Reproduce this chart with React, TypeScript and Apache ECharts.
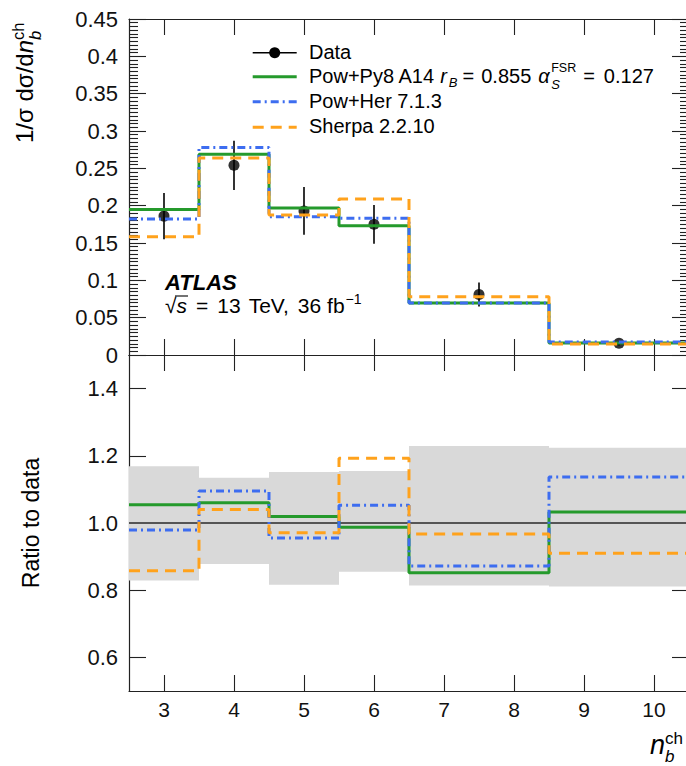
import React, { useEffect, useRef } from "react";
import * as echarts from "echarts";

// ---------- data ----------
const binEdges = [2.5, 3.5, 4.5, 5.5, 6.5, 8.5, 10.5];
const xTickValues = [3, 4, 5, 6, 7, 8, 9, 10];
const ratioTickValues = [0.6, 0.8, 1.0, 1.2, 1.4];

const dataValues = [0.186, 0.254, 0.193, 0.175, 0.081, 0.0157];
const dataErrors = [0.031, 0.033, 0.032, 0.026, 0.016, 0.003];

const powPy8 = [0.195, 0.269, 0.197, 0.173, 0.0695, 0.0162];
const powHer = [0.182, 0.278, 0.185, 0.183, 0.0698, 0.0174];
const sherpa = [0.1585, 0.264, 0.1875, 0.209, 0.078, 0.0147];

const ratioPowPy8 = [1.054, 1.06, 1.019, 0.987, 0.852, 1.033];
const ratioPowHer = [0.979, 1.095, 0.955, 1.053, 0.872, 1.137];
const ratioSherpa = [0.858, 1.04, 0.971, 1.193, 0.967, 0.91];
const uncLow = [0.829, 0.878, 0.816, 0.855, 0.814, 0.811];
const uncHigh = [1.169, 1.135, 1.152, 1.155, 1.229, 1.224];
const unityRatio = 1.0;

// ---------- style ----------
const FONT = "'Liberation Sans', Arial, Helvetica, sans-serif";
const GREEN = "#259a2c";
const BLUE = "#3d6df0";
const ORANGE = "#ffa21c";
const BAND = "#d9d9d9";
const AXIS = "#222";
const BLUE_DASH = [8, 4, 2, 4];
const ORANGE_DASH = [11, 7];

let measureCtx: CanvasRenderingContext2D | null = null;
function textWidth(t: string, size: number, italic?: boolean, bold?: boolean) {
  if (!measureCtx) measureCtx = document.createElement("canvas").getContext("2d");
  measureCtx!.font = `${italic ? "italic " : ""}${bold ? "bold " : ""}${size}px ${FONT}`;
  return measureCtx!.measureText(t).width;
}

type Seg = { t: string; s: number; it?: boolean; b?: boolean; dy?: number; stack?: boolean; gap?: number };

function mathText(segs: Seg[], color = "#000") {
  const children: any[] = [];
  const starts: number[] = [];
  let prevStart = 0;
  let end = 0;
  for (const g of segs) {
    const start = g.stack ? prevStart : end + (g.gap || 0);
    const w = textWidth(g.t, g.s, g.it, g.b);
    starts.push(start);
    children.push({
      type: "text",
      x: start,
      y: (g.dy || 0) - 0.35 * g.s,
      silent: true,
      style: {
        text: g.t,
        fontSize: g.s,
        fontFamily: FONT,
        fontStyle: g.it ? "italic" : "normal",
        fontWeight: g.b ? "bold" : "normal",
        fill: color,
        align: "left",
        verticalAlign: "middle",
      },
    });
    prevStart = start;
    end = Math.max(end, start + w);
  }
  return { children, width: end, starts };
}

function stepData(values: number[]) {
  const pts = values.map((v, i) => [binEdges[i], v]);
  pts.push([binEdges[binEdges.length - 1], values[values.length - 1]]);
  return pts;
}

const binCenters = dataValues.map((_, i) => (binEdges[i] + binEdges[i + 1]) / 2);

export default function App() {
  const ref = useRef<HTMLDivElement>(null);

  useEffect(() => {
    if (!ref.current) return;
    const chart = echarts.init(ref.current, undefined, { renderer: "svg" });

    const axisLine = { show: true, onZero: false, lineStyle: { color: AXIS, width: 1.2 } };
    const tickStyle = { color: AXIS, width: 1.1 };

    const xAxisBase = (grid: number, pos: string, labels: boolean) => ({
      type: "value",
      gridIndex: grid,
      position: pos,
      min: 2.5,
      max: 10.5,
      axisLine,
      axisTick: { show: true, inside: true, length: 16, customValues: xTickValues, lineStyle: tickStyle },
      axisLabel: labels
        ? { show: true, customValues: xTickValues, margin: 8, fontSize: 21, fontFamily: FONT, color: "#111" }
        : { show: false },
      splitLine: { show: false },
    });

    const topY = (pos: string, labels: boolean) => ({
      type: "value",
      gridIndex: 0,
      position: pos,
      min: 0,
      max: 0.45,
      interval: 0.05,
      axisLine,
      axisTick: { show: true, inside: true, length: 17, lineStyle: tickStyle },
      minorTick: { show: true, splitNumber: 10, length: 9, lineStyle: tickStyle },
      axisLabel: labels
        ? {
            show: true,
            margin: 11,
            fontSize: 22,
            fontFamily: FONT,
            color: "#111",
            formatter: (v: number) => String(+v.toFixed(2)),
          }
        : { show: false },
      splitLine: { show: false },
    });

    const botY = (pos: string, labels: boolean) => ({
      type: "value",
      gridIndex: 1,
      position: pos,
      min: 0.5,
      max: 1.5,
      axisLine,
      axisTick: { show: true, inside: true, length: 17, customValues: ratioTickValues, lineStyle: tickStyle },
      axisLabel: labels
        ? {
            show: true,
            customValues: ratioTickValues,
            margin: 11,
            fontSize: 22,
            fontFamily: FONT,
            color: "#111",
            formatter: (v: number) => v.toFixed(1),
          }
        : { show: false },
      splitLine: { show: false },
    });

    const modelLine = (name: string, values: number[], color: string, dash: any, xi: number, yi: number, z: number) => ({
      name,
      type: "line",
      xAxisIndex: xi,
      yAxisIndex: yi,
      data: stepData(values),
      step: "end",
      symbol: "none",
      showSymbol: false,
      lineStyle: { color, width: 3, type: dash },
      z,
      silent: true,
    });

    // ---------- graphic texts ----------
    const graphics: any[] = [];

    // legend
    const lx1 = 252.7;
    const lx2 = 296.7;
    const textX = 309;
    const rows = [
      { ly: 52.7, base: 59.2 },
      { ly: 76.7, base: 83.2 },
      { ly: 101.7, base: 108.2 },
      { ly: 127.3, base: 133 },
    ];
    graphics.push({
      type: "line",
      shape: { x1: lx1, y1: rows[0].ly, x2: lx2, y2: rows[0].ly },
      style: { stroke: "#000", lineWidth: 1.5 },
      silent: true,
    });
    graphics.push({
      type: "circle",
      shape: { cx: (lx1 + lx2) / 2, cy: rows[0].ly, r: 5.5 },
      style: { fill: "#000" },
      silent: true,
    });
    graphics.push({
      type: "line",
      shape: { x1: lx1, y1: rows[1].ly, x2: lx2, y2: rows[1].ly },
      style: { stroke: GREEN, lineWidth: 3 },
      silent: true,
    });
    graphics.push({
      type: "line",
      shape: { x1: lx1, y1: rows[2].ly, x2: lx2, y2: rows[2].ly },
      style: { stroke: BLUE, lineWidth: 3, lineDash: BLUE_DASH },
      silent: true,
    });
    graphics.push({
      type: "line",
      shape: { x1: lx1, y1: rows[3].ly, x2: lx2, y2: rows[3].ly },
      style: { stroke: ORANGE, lineWidth: 3, lineDash: ORANGE_DASH },
      silent: true,
    });
    const legTexts: Seg[][] = [
      [{ t: "Data", s: 20 }],
      [
        { t: "Pow+Py8 A14", s: 20 },
        { t: "r", s: 20, it: true, gap: 5 },
        { t: "B", s: 13, it: true, dy: 4, gap: 2 },
        { t: "=", s: 20, gap: 5 },
        { t: "0.855", s: 20, gap: 7 },
        { t: "α", s: 20, it: true, gap: 7 },
        { t: "FSR", s: 12.5, dy: -11, gap: 1.5 },
        { t: "S", s: 13, it: true, dy: 6, stack: true },
        { t: "=", s: 20, gap: 7 },
        { t: "0.127", s: 20, gap: 9 },
      ],
      [{ t: "Pow+Her 7.1.3", s: 20 }],
      [{ t: "Sherpa 2.2.10", s: 20 }],
    ];
    legTexts.forEach((segs, i) => {
      graphics.push({ type: "group", x: textX, y: rows[i].base, children: mathText(segs).children });
    });

    // ATLAS label
    graphics.push({
      type: "group",
      x: 165,
      y: 290.5,
      children: mathText([{ t: "ATLAS", s: 22, it: true, b: true }]).children,
    });
    const sq = textWidth("√", 21);
    const sw = textWidth("s", 21, true);
    const energy = mathText([
      { t: "√", s: 21 },
      { t: "s", s: 21, it: true, gap: 0 },
      { t: "=", s: 21, gap: 9 },
      { t: "13", s: 21, gap: 9 },
      { t: "TeV,", s: 21, gap: 8 },
      { t: "36", s: 21, gap: 9 },
      { t: "fb", s: 21, gap: 6 },
      { t: "−1", s: 14, dy: -9, gap: 1 },
    ]);
    graphics.push({
      type: "group",
      x: 165,
      y: 313,
      children: [
        ...energy.children,
        {
          type: "line",
          shape: { x1: sq - 1.5, y1: -17, x2: sq + sw + 1, y2: -17 },
          style: { stroke: "#000", lineWidth: 1.1 },
          silent: true,
        },
      ],
    });

    // y-axis title (top)
    graphics.push({
      type: "group",
      x: 33,
      y: 143,
      rotation: Math.PI / 2,
      children: mathText([
        { t: "1/σ dσ/d", s: 24 },
        { t: "n", s: 24, it: true },
        { t: "ch", s: 16.5, dy: -9.5 },
        { t: "b", s: 16.5, it: true, dy: 7.5, stack: true },
      ]).children,
    });

    // y-axis title (bottom)
    graphics.push({
      type: "text",
      x: 30.5,
      y: 523,
      rotation: Math.PI / 2,
      silent: true,
      style: {
        text: "Ratio to data",
        fontSize: 23,
        fontFamily: FONT,
        fill: "#000",
        align: "center",
        verticalAlign: "middle",
      },
    });

    // x-axis title
    graphics.push({
      type: "group",
      x: 650,
      y: 754,
      children: mathText([
        { t: "n", s: 27, it: true },
        { t: "ch", s: 17, dy: -10 },
        { t: "b", s: 17, it: true, dy: 8, stack: true },
      ]).children,
    });

    const option: any = {
      animation: false,
      backgroundColor: "#fff",
      grid: [
        { left: 129, top: 19, width: 560, height: 336 },
        { left: 129, top: 355, width: 560, height: 336 },
      ],
      xAxis: [xAxisBase(0, "bottom", false), xAxisBase(0, "top", false), xAxisBase(1, "bottom", true), xAxisBase(1, "top", false)],
      yAxis: [topY("left", true), topY("right", false), botY("left", true), botY("right", false)],
      series: [
        // top panel
        {
          name: "Data",
          type: "scatter",
          xAxisIndex: 0,
          yAxisIndex: 0,
          data: binCenters.map((c, i) => [c, dataValues[i]]),
          symbol: "circle",
          symbolSize: 11,
          itemStyle: { color: "#000" },
          z: 2,
          silent: true,
        },
        {
          name: "DataErr",
          type: "custom",
          xAxisIndex: 0,
          yAxisIndex: 0,
          data: binCenters.map((c, i) => [c, dataValues[i], dataErrors[i]]),
          encode: { x: 0, y: 1 },
          renderItem: (params: any, api: any) => {
            const x = api.value(0);
            const y = api.value(1);
            const e = api.value(2);
            const a = api.coord([x, y - e]);
            const b = api.coord([x, y + e]);
            return {
              type: "line",
              shape: { x1: a[0], y1: a[1], x2: b[0], y2: b[1] },
              style: { stroke: "#000", lineWidth: 1.6 },
            };
          },
          z: 2,
          silent: true,
        },
        modelLine("Pow+Py8 A14", powPy8, GREEN, "solid", 0, 0, 3),
        modelLine("Pow+Her 7.1.3", powHer, BLUE, BLUE_DASH, 0, 0, 4),
        modelLine("Sherpa 2.2.10", sherpa, ORANGE, ORANGE_DASH, 0, 0, 5),
        // bottom panel
        {
          name: "Uncertainty",
          type: "custom",
          xAxisIndex: 2,
          yAxisIndex: 2,
          clip: true,
          data: uncLow.map((lo, i) => [binEdges[i], binEdges[i + 1], lo, uncHigh[i]]),
          encode: { x: [0, 1], y: [2, 3] },
          renderItem: (params: any, api: any) => {
            const p = api.coord([api.value(0), api.value(3)]);
            const q = api.coord([api.value(1), api.value(2)]);
            return {
              type: "rect",
              shape: { x: p[0], y: p[1], width: q[0] - p[0], height: q[1] - p[1] },
              style: { fill: BAND },
            };
          },
          z: 1,
          silent: true,
        },
        {
          name: "Unity",
          type: "line",
          xAxisIndex: 2,
          yAxisIndex: 2,
          data: [
            [binEdges[0], unityRatio],
            [binEdges[binEdges.length - 1], unityRatio],
          ],
          symbol: "none",
          lineStyle: { color: "#555", width: 2 },
          z: 2,
          silent: true,
        },
        modelLine("Pow+Py8 A14 ratio", ratioPowPy8, GREEN, "solid", 2, 2, 3),
        modelLine("Pow+Her 7.1.3 ratio", ratioPowHer, BLUE, BLUE_DASH, 2, 2, 4),
        modelLine("Sherpa 2.2.10 ratio", ratioSherpa, ORANGE, ORANGE_DASH, 2, 2, 5),
      ],
      graphic: graphics,
    };

    chart.setOption(option);
    return () => chart.dispose();
  }, []);

  return (
    <div style={{ position: "absolute", left: 0, top: 0, width: 686, height: 766, overflow: "hidden", background: "#fff" }}>
      <div ref={ref} style={{ width: 690, height: 766 }} />
    </div>
  );
}
